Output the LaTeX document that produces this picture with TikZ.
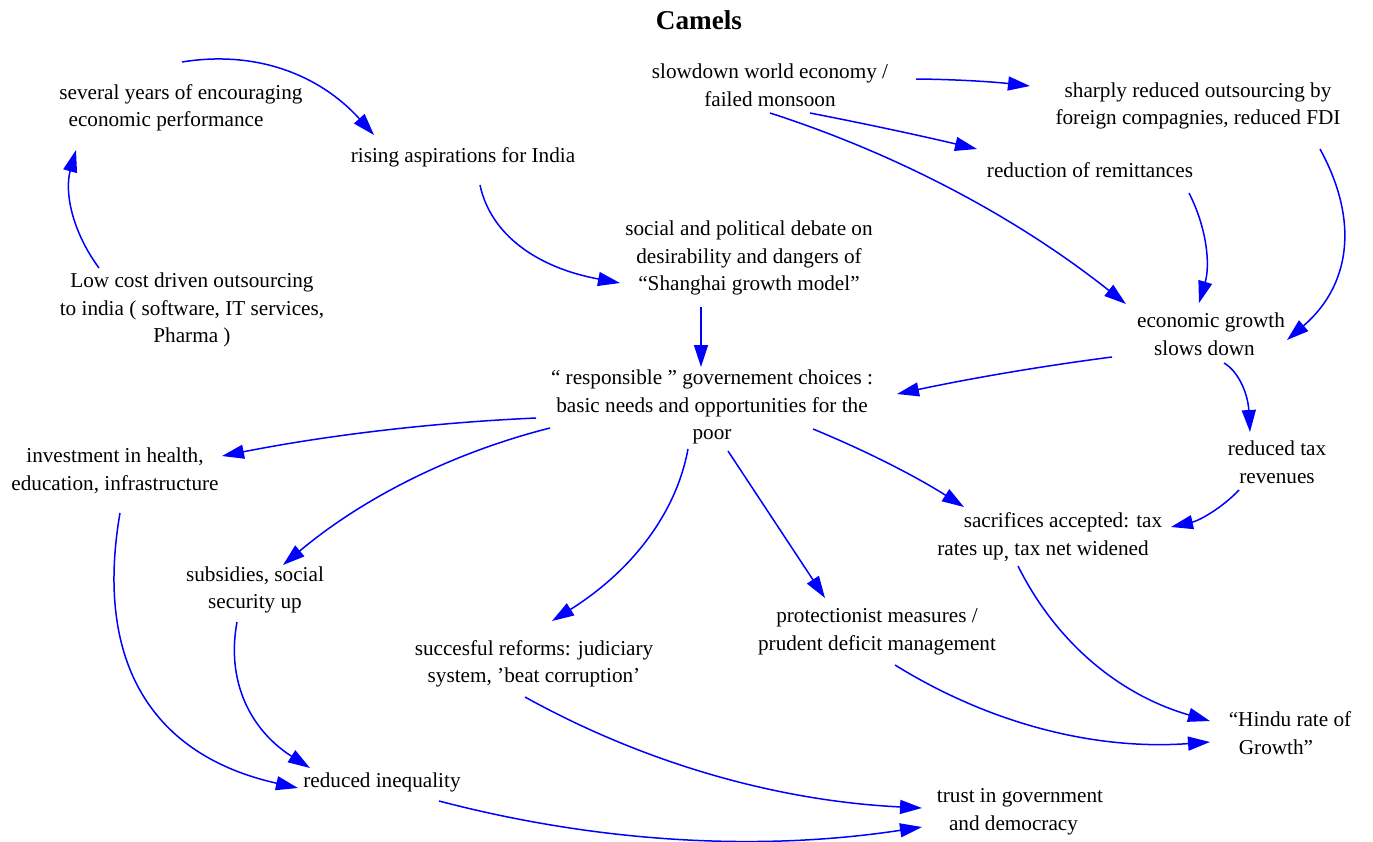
\documentclass[tikz,border=0pt]{standalone}
\usepackage{fontspec}
\setmainfont{Liberation Serif}
\usetikzlibrary{arrows.meta,calc}
\newcommand\qcurve[3]{%
  \coordinate (qs) at #1;
  \coordinate (qe) at #3;
  \draw[arr] (qs) .. controls ($(qs)!2/3!#2$) and ($(qe)!2/3!#2$) .. (qe);}
\begin{document}
\begin{tikzpicture}[x=0.5pt,y=-0.5pt]
\tikzset{
  lbl/.style={inner sep=0pt, align=center, font=\fontsize{10.6pt}{13.75pt}\selectfont},
  ttl/.style={inner sep=0pt, font=\bfseries\fontsize{13.6pt}{16pt}\selectfont},
  arr/.style={draw=blue, line width=0.75pt, -{Triangle[length=11pt,width=7pt]}}
}
\useasboundingbox[fill=white] (0,0) rectangle (1373,842);

\node[ttl] (title) at (699,20) {Camels};
\node[lbl] (sev) at (181,108) {several years of encouraging\\economic performance\hspace*{15pt}};
\node[lbl] (low) at (192,310) {Low cost driven outsourcing\\to india ( software, IT services,\\Pharma )};
\node[lbl] (ris) at (463,157) {rising aspirations for India};
\node[lbl] (slow) at (770,85) {slowdown world economy /\\failed monsoon};
\node[lbl] (sharp) at (1198,106) {sharply reduced outsourcing by\\foreign compagnies, reduced FDI};
\node[lbl] (remit) at (1090,170) {reduction of remittances};
\node[lbl] (deb) at (749,258) {social and political debate on\\desirability and dangers of\\“Shanghai growth model”};
\node[lbl] (grow) at (1211,334) {economic growth\\slows down\hspace*{6.5pt}};
\node[lbl] (resp) at (712,407) {“ responsible ” governement choices :\\basic needs and opportunities for the\\poor};
\node[lbl] (inv) at (115,471) {investment in health,\\education, infrastructure};
\node[lbl] (rtax) at (1277,462) {reduced tax\\revenues};
\node[lbl] (sac) at (1043,537) {\hspace*{20pt}sacrifices accepted: tax\\rates up\raisebox{-1.5pt}{,} tax net widened};
\node[lbl] (sub) at (255,590) {subsidies, social\\security up};
\node[lbl] (prot) at (877,632) {protectionist measures /\\prudent deficit management};
\node[lbl] (ref) at (534,664) {succesful reforms: judiciary\\system, ’beat corruption’};
\node[lbl] (hindu) at (1290,733) {“Hindu rate of\\Growth”\hspace*{14pt}};
\node[lbl] (ineq) at (382,782) {reduced inequality};
\node[lbl] (trust) at (1020,812) {trust in government\\and democracy\hspace*{6.5pt}};

\qcurve{($(sev)+(1,-46)$)}{(292,44)}{($(ris)+(-89,-22)$)}
\qcurve{($(ris)+(17,28)$)}{(496,260)}{($(deb)+(-129,25)$)}
\draw[arr] ($(deb)+(-48,49)$) -- ($(resp)+(-11,-40)$);
\qcurve{($(low)+(-93,-42)$)}{(58.5,213)}{($(sev)+(-105,42)$)}
\qcurve{($(slow)+(146,-6)$)}{(973,79.5)}{($(sharp)+(-168,-20)$)}
\qcurve{($(slow)+(40,28)$)}{(892.5,129)}{($(remit)+(-113,-21)$)}
\qcurve{($(slow)+(0,28)$)}{(964,175.5)}{($(grow)+(-85,-30)$)}
\qcurve{($(remit)+(99,23)$)}{(1216,246)}{($(grow)+(-12,-31)$)}
\qcurve{($(sharp)+(122,43)$)}{(1380.5,259.5)}{($(grow)+(76,6)$)}
\qcurve{($(grow)+(-99,23)$)}{(1007.5,370.5)}{($(resp)+(185,-13)$)}
\qcurve{($(grow)+(13,29)$)}{(1247,376.5)}{($(rtax)+(-27,-30)$)}
\qcurve{($(rtax)+(-38,28)$)}{(1213,517.5)}{($(sac)+(128,-10)$)}
\qcurve{($(resp)+(101,22)$)}{(893.5,462)}{($(sac)+(-79,-30)$)}
\draw[arr] ($(resp)+(16,44)$) -- ($(prot)+(-52,-34)$);
\qcurve{($(resp)+(-176,11)$)}{(379,425)}{($(inv)+(107,-15)$)}
\qcurve{($(resp)+(-162,21)$)}{(401.5,465.5)}{($(sub)+(28,-25)$)}
\qcurve{($(resp)+(-24,42)$)}{(670,547)}{($(ref)+(18,-43)$)}
\qcurve{($(sac)+(-25,29)$)}{(1076,682.5)}{($(hindu)+(-80,-12)$)}
\qcurve{($(prot)+(18,33)$)}{(1039.5,754.5)}{($(hindu)+(-80,9)$)}
\qcurve{($(ref)+(-9,33)$)}{(706.5,797.5)}{($(trust)+(-98,-4)$)}
\qcurve{($(ineq)+(57,19)$)}{(679.5,864)}{($(trust)+(-98,15)$)}
\qcurve{($(inv)+(5,42)$)}{(81,739.5)}{($(ineq)+(-84,6)$)}
\qcurve{($(sub)+(-18,32)$)}{(220.5,711)}{($(ineq)+(-72,-14)$)}
\end{tikzpicture}
\end{document}
